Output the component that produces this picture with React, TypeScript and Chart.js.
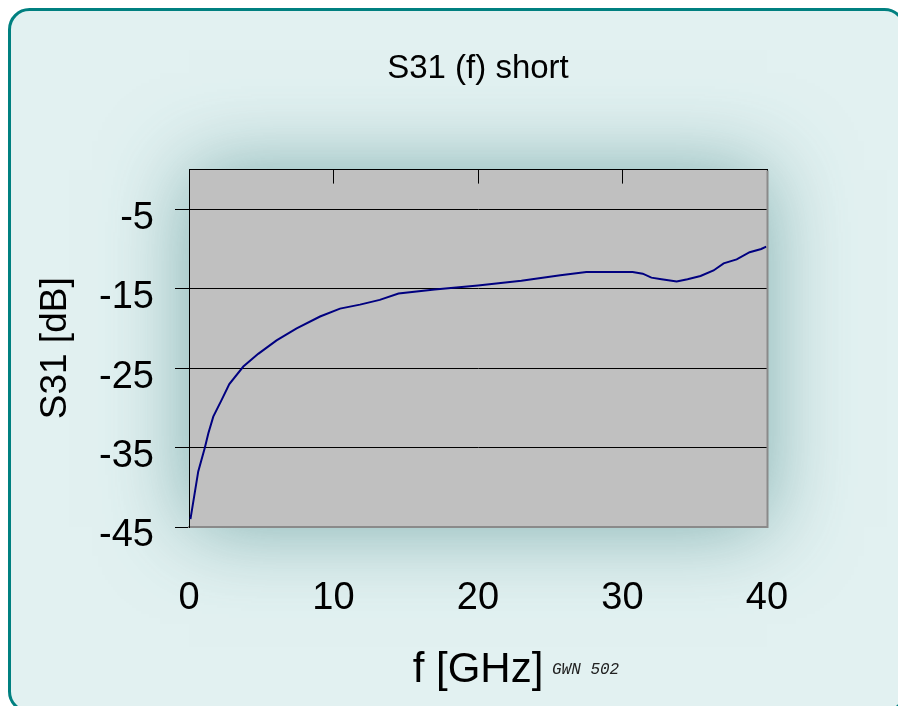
import React, { useEffect, useRef } from "react";
import { Chart, registerables } from "chart.js";

Chart.register(...registerables);

const freqGHz = [0.1, 0.64, 1.1, 1.34, 1.68, 2.26, 2.79, 3.76, 4.79, 6.06, 7.45, 9.07, 10.45, 11.83, 13.2, 14.5, 17, 20, 23, 25.7, 27.5, 30.7, 31.4, 32.0, 32.7, 33.75, 34.5, 35.4, 36.3, 37.0, 37.9, 38.8, 39.6, 39.95];
const s31dB = [-44, -38, -35, -33.2, -31.1, -29, -27, -24.8, -23.2, -21.5, -20, -18.5, -17.5, -17, -16.4, -15.6, -15.1, -14.6, -14.0, -13.3, -12.9, -12.9, -13.1, -13.6, -13.8, -14.1, -13.8, -13.4, -12.7, -11.8, -11.3, -10.4, -10.0, -9.7];
const xTicks = [0, 10, 20, 30, 40];
const yTicks = [-45, -35, -25, -15, -5];

const chartTitle = "S31 (f) short";
const xTitle = "f [GHz]";
const yTitle = "S31 [dB]";
const noteText = "GWN 502";

const FONT = "'Liberation Sans', Arial, sans-serif";

const bgPlugin = {
  id: "bgPlugin",
  beforeDraw(chart: any) {
    const { ctx, chartArea: a, width, height } = chart;
    ctx.save();
    ctx.fillStyle = "#ffffff";
    ctx.fillRect(0, 0, width, height);
    ctx.beginPath();
    ctx.roundRect(9.5, 9.5, 895, 702, 20);
    ctx.fillStyle = "#e2f1f1";
    ctx.fill();
    ctx.save();
    ctx.clip();
    ctx.shadowColor = "rgba(60,128,128,0.6)";
    ctx.shadowBlur = 80;
    ctx.fillStyle = "#c0c0c0";
    ctx.fillRect(a.left, a.top, a.right - a.left, a.bottom - a.top);
    ctx.restore();
    ctx.fillStyle = "#c0c0c0";
    ctx.fillRect(a.left, a.top, a.right - a.left, a.bottom - a.top);
    ctx.beginPath();
    ctx.roundRect(9.5, 9.5, 895, 702, 20);
    ctx.lineWidth = 3;
    ctx.strokeStyle = "#008080";
    ctx.stroke();
    ctx.restore();
  },
  afterDraw(chart: any) {
    const { ctx, chartArea: a } = chart;
    ctx.save();
    ctx.strokeStyle = "#8a8a8a";
    ctx.lineWidth = 2;
    ctx.beginPath();
    ctx.moveTo(a.right + 0.5, a.top + 1);
    ctx.lineTo(a.right + 0.5, a.bottom + 1);
    ctx.stroke();
    ctx.fillStyle = "#222";
    ctx.font = "italic 16px 'Liberation Mono', monospace";
    ctx.textBaseline = "alphabetic";
    ctx.textAlign = "left";
    ctx.fillText(noteText, 552, 674);
    ctx.restore();
  },
};

export default function App() {
  const ref = useRef<HTMLCanvasElement | null>(null);
  useEffect(() => {
    if (!ref.current) return;
    Chart.defaults.font.family = FONT;
    const chart = new Chart(ref.current, {
      type: "line",
      data: {
        datasets: [
          {
            data: freqGHz.map((f, i) => ({ x: f, y: s31dB[i] })),
            borderColor: "#000080",
            borderWidth: 2,
            pointRadius: 0,
            tension: 0,
            fill: false,
          },
        ],
      },
      options: {
        responsive: false,
        animation: false,
        layout: { padding: { top: 8, left: 0, right: 131, bottom: 0 } },
        plugins: {
          legend: { display: false },
          tooltip: { enabled: false },
          title: {
            display: true,
            text: chartTitle,
            color: "#000",
            font: { family: FONT, size: 33, weight: "normal" },
            padding: { top: 41, bottom: 81 },
            fullSize: false,
          } as any,
        },
        scales: {
          x: {
            type: "linear",
            position: "bottom",
            min: 0,
            max: 40,
            afterBuildTicks: (s: any) => {
              s.ticks = xTicks.map((v) => ({ value: v }));
            },
            afterFit: (s: any) => {
              s.height = 179;
            },
            grid: { display: true, drawOnChartArea: false, drawTicks: false },
            border: { display: true, color: "#8a8a8a", width: 2 },
            ticks: {
              color: "#000",
              font: { family: FONT, size: 38 },
              padding: 49,
              maxRotation: 0,
            },
            title: {
              display: true,
              text: xTitle,
              color: "#000",
              font: { family: FONT, size: 42 },
              padding: { top: 0, bottom: 10 },
            },
          },
          x2: {
            type: "linear",
            position: "top",
            min: 0,
            max: 40,
            afterBuildTicks: (s: any) => {
              s.ticks = xTicks.map((v) => ({ value: v }));
            },
            afterFit: (s: any) => {
              s.height = 0;
            },
            ticks: { display: false },
            grid: { drawOnChartArea: false, drawTicks: true, tickLength: -14, color: "#000", lineWidth: 1 },
            border: { display: true, color: "#000", width: 1 },
          },
          y: {
            type: "linear",
            min: -45,
            max: 0,
            afterBuildTicks: (s: any) => {
              s.ticks = yTicks.map((v) => ({ value: v }));
            },
            afterFit: (s: any) => {
              s.width = 189;
            },
            grid: {
              color: (c: any) => (c.tick && c.tick.value === -45 ? "#8a8a8a" : "#000"),
              tickColor: "#000",
              tickLength: 14,
              lineWidth: 1,
            },
            border: { display: true, color: "#000", width: 1 },
            ticks: {
              color: "#000",
              font: { family: FONT, size: 38 },
              padding: 21,
              labelOffset: 9,
            },
            title: {
              display: true,
              text: yTitle,
              color: "#000",
              font: { family: FONT, size: 37 },
              padding: { top: 34, bottom: 0 },
            },
          },
        },
      },
      plugins: [bgPlugin],
    });
    return () => chart.destroy();
  }, []);
  return (
    <div style={{ position: "fixed", left: 0, top: 0, width: 898, height: 706 }}>
      <canvas ref={ref} width={898} height={706} style={{ display: "block" }} />
    </div>
  );
}
